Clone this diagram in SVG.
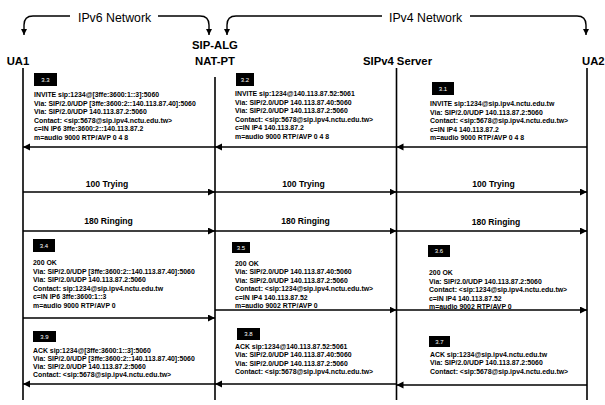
<svg xmlns="http://www.w3.org/2000/svg" width="605" height="405" viewBox="0 0 605 405">
<style>
.bg{fill:#fff}
.life{stroke:#000;stroke-width:1.6;fill:none}
.msg{stroke:#000;stroke-width:1.5;fill:none}
.net{stroke:#000;stroke-width:1.4;fill:none}
.ent{font-family:"Liberation Sans",Arial,sans-serif;font-weight:bold;font-size:11.3px;fill:#000}
.nt{font-family:"Liberation Sans",Arial,sans-serif;font-size:12.3px;fill:#000}
.lbl{font-family:"Liberation Sans",Arial,sans-serif;font-weight:bold;font-size:8.6px;fill:#000;text-anchor:middle}
.body{font-family:"Liberation Sans",Arial,sans-serif;font-weight:bold;font-size:6.9px;fill:#000}
.tag{fill:#000}
.tagt{font-family:"Liberation Sans",Arial,sans-serif;font-size:6px;fill:#fff;text-anchor:middle}
</style>
<defs>
<marker id="ah" markerUnits="userSpaceOnUse" markerWidth="8" markerHeight="8" refX="7" refY="3.5" orient="auto">
<path d="M0,0 L7,3.5 L0,7 z" fill="#000"/>
</marker>
<marker id="ahs" markerUnits="userSpaceOnUse" markerWidth="8" markerHeight="8" refX="6" refY="3" orient="auto">
<path d="M0,0 L6,3 L0,6 z" fill="#000"/>
</marker>
</defs>
<rect class="bg" x="0" y="0" width="605" height="405"/>

<g id="networks">
<path class="net" d="M70,16 H33 Q24,16 24,25 V35" marker-end="url(#ahs)"/>
<text class="nt" x="78" y="22">IPv6 Network</text>
<path class="net" d="M158,16 H200 Q209,16 209,25 V35" marker-end="url(#ahs)"/>
<path class="net" d="M382,16 H236 Q227,16 227,25 V35" marker-end="url(#ahs)"/>
<text class="nt" x="389" y="22">IPv4 Network</text>
<path class="net" d="M470,16 H577 Q586,16 586,25 V35" marker-end="url(#ahs)"/>
</g>

<g id="UA1">
<text class="ent" x="18" y="65" text-anchor="middle">UA1</text>
<line class="life" x1="23" y1="68" x2="23" y2="400"/>
</g>
<g id="NAT-PT">
<text class="ent" x="215" y="49" text-anchor="middle">SIP-ALG</text>
<text class="ent" x="215" y="65" text-anchor="middle">NAT-PT</text>
<line class="life" x1="215" y1="77" x2="215" y2="400"/>
</g>
<g id="SIPv4">
<text class="ent" x="397.5" y="65" text-anchor="middle">SIPv4 Server</text>
<line class="life" x1="396.5" y1="68" x2="396.5" y2="400"/>
</g>
<g id="UA2">
<text class="ent" x="582" y="65">UA2</text>
<line class="life" x1="587" y1="68" x2="587" y2="400"/>
</g>

<g id="connectors">
<line class="msg" x1="215" y1="147" x2="23" y2="147" marker-end="url(#ah)"/>
<line class="msg" x1="396.5" y1="147" x2="215" y2="147" marker-end="url(#ah)"/>
<line class="msg" x1="587" y1="147" x2="396.5" y2="147" marker-end="url(#ah)"/>
<line class="msg" x1="23" y1="192" x2="215" y2="192" marker-end="url(#ah)"/>
<line class="msg" x1="215" y1="192" x2="396.5" y2="192" marker-end="url(#ah)"/>
<line class="msg" x1="396.5" y1="192" x2="587" y2="192" marker-end="url(#ah)"/>
<line class="msg" x1="23" y1="231" x2="215" y2="231" marker-end="url(#ah)"/>
<line class="msg" x1="215" y1="231" x2="396.5" y2="231" marker-end="url(#ah)"/>
<line class="msg" x1="396.5" y1="231" x2="587" y2="231" marker-end="url(#ah)"/>
<line class="msg" x1="23" y1="318" x2="215" y2="318" marker-end="url(#ah)"/>
<line class="msg" x1="215" y1="310" x2="396.5" y2="310" marker-end="url(#ah)"/>
<line class="msg" x1="396.5" y1="310" x2="587" y2="310" marker-end="url(#ah)"/>
<line class="msg" x1="215" y1="384" x2="23" y2="384" marker-end="url(#ah)"/>
<line class="msg" x1="396.5" y1="384" x2="215" y2="384" marker-end="url(#ah)"/>
<line class="msg" x1="587" y1="385" x2="396.5" y2="385" marker-end="url(#ah)"/>
</g>

<g id="trying">
<text class="lbl" x="107" y="187">100 Trying</text>
<text class="lbl" x="303.5" y="187">100 Trying</text>
<text class="lbl" x="493.5" y="186.5">100 Trying</text>
</g>
<g id="ringing">
<text class="lbl" x="108.5" y="224">180 Ringing</text>
<text class="lbl" x="305.5" y="224">180 Ringing</text>
<text class="lbl" x="496" y="225">180 Ringing</text>
</g>

<g id="m3_3">
<rect class="tag" x="34" y="73" width="23" height="13"/>
<text class="tagt" x="45.5" y="81.5">3.3</text>
<text class="body" x="34" y="97">INVITE sip:1234@[3ffe:3600:1::3]:5060</text>
<text class="body" x="34" y="105.5">Via: SIP/2.0/UDP [3ffe:3600:2::140.113.87.40]:5060</text>
<text class="body" x="34" y="114">Via: SIP/2.0/UDP 140.113.87.2:5060</text>
<text class="body" x="34" y="122.5">Contact: &lt;sip:5678@sip.ipv4.nctu.edu.tw&gt;</text>
<text class="body" x="34" y="131">c=IN IP6 3ffe:3600:2::140.113.87.2</text>
<text class="body" x="34" y="139.5">m=audio 9000 RTP/AVP 0 4 8</text>
</g>
<g id="m3_2">
<rect class="tag" x="236" y="73" width="18" height="13"/>
<text class="tagt" x="245" y="81.5">3.2</text>
<text class="body" x="235" y="96">INVITE sip:1234@140.113.87.52:5061</text>
<text class="body" x="235" y="104.5">Via: SIP/2.0/UDP 140.113.87.40:5060</text>
<text class="body" x="235" y="113">Via: SIP/2.0/UDP 140.113.87.2:5060</text>
<text class="body" x="235" y="121.5">Contact: &lt;sip:5678@sip.ipv4.nctu.edu.tw&gt;</text>
<text class="body" x="235" y="130">c=IN IP4 140.113.87.2</text>
<text class="body" x="235" y="138.5">m=audio 9000 RTP/AVP 0 4 8</text>
</g>
<g id="m3_1">
<rect class="tag" x="432" y="82" width="22" height="13"/>
<text class="tagt" x="443" y="90.5">3.1</text>
<text class="body" x="430" y="106">INVITE sip:1234@sip.ipv4.nctu.edu.tw</text>
<text class="body" x="430" y="114.5">Via: SIP/2.0/UDP 140.113.87.2:5060</text>
<text class="body" x="430" y="123">Contact: &lt;sip:5678@sip.ipv4.nctu.edu.tw&gt;</text>
<text class="body" x="430" y="131.5">c=IN IP4 140.113.87.2</text>
<text class="body" x="430" y="140">m=audio 9000 RTP/AVP 0 4 8</text>
</g>

<g id="m3_4">
<rect class="tag" x="33" y="239" width="22" height="13"/>
<text class="tagt" x="44" y="247.5">3.4</text>
<text class="body" x="33" y="265">200 OK</text>
<text class="body" x="33" y="273.5">Via: SIP/2.0/UDP [3ffe:3600:2::140.113.87.40]:5060</text>
<text class="body" x="33" y="282">Via: SIP/2.0/UDP 140.113.87.2:5060</text>
<text class="body" x="33" y="290.5">Contact: sip:1234@sip.ipv4.nctu.edu.tw</text>
<text class="body" x="33" y="299">c=IN IP6 3ffe:3600:1::3</text>
<text class="body" x="33" y="307.5">m=audio 9000 RTP/AVP 0</text>
</g>
<g id="m3_5">
<rect class="tag" x="232" y="242" width="18" height="11"/>
<text class="tagt" x="241" y="249.5">3.5</text>
<text class="body" x="235" y="265.5">200 OK</text>
<text class="body" x="235" y="274">Via: SIP/2.0/UDP 140.113.87.40:5060</text>
<text class="body" x="235" y="282.5">Via: SIP/2.0/UDP 140.113.87.2:5060</text>
<text class="body" x="235" y="291">Contact: &lt;sip:1234@sip.ipv4.nctu.edu.tw&gt;</text>
<text class="body" x="235" y="299.5">c=IN IP4 140.113.87.52</text>
<text class="body" x="235" y="308">m=audio 9002 RTP/AVP 0</text>
</g>
<g id="m3_6">
<rect class="tag" x="428" y="245" width="22" height="12"/>
<text class="tagt" x="439" y="253">3.6</text>
<text class="body" x="429" y="275">200 OK</text>
<text class="body" x="429" y="283.5">Via: SIP/2.0/UDP 140.113.87.2:5060</text>
<text class="body" x="429" y="292">Contact: &lt;sip:1234@sip.ipv4.nctu.edu.tw&gt;</text>
<text class="body" x="429" y="300.5">c=IN IP4 140.113.87.52</text>
<text class="body" x="429" y="308.5">m=audio 9002 RTP/AVP 0</text>
</g>

<g id="m3_9">
<rect class="tag" x="33" y="331" width="23" height="11"/>
<text class="tagt" x="44.5" y="338.5">3.9</text>
<text class="body" x="33" y="352.5">ACK sip:1234@[3ffe:3600:1::3]:5060</text>
<text class="body" x="33" y="360.8">Via: SIP/2.0/UDP [3ffe:3600:2::140.113.87.40]:5060</text>
<text class="body" x="33" y="369.1">Via: SIP/2.0/UDP 140.113.87.2:5060</text>
<text class="body" x="33" y="377.4">Contact: &lt;sip:5678@sip.ipv4.nctu.edu.tw&gt;</text>
</g>
<g id="m3_8">
<rect class="tag" x="237" y="328" width="23" height="12"/>
<text class="tagt" x="248.5" y="336">3.8</text>
<text class="body" x="235" y="349">ACK sip:1234@140.113.87.52:5061</text>
<text class="body" x="235" y="357.3">Via: SIP/2.0/UDP 140.113.87.40:5060</text>
<text class="body" x="235" y="365.6">Via: SIP/2.0/UDP 140.113.87.2:5060</text>
<text class="body" x="235" y="373.9">Contact: &lt;sip:5678@sip.ipv4.nctu.edu.tw&gt;</text>
</g>
<g id="m3_7">
<rect class="tag" x="429" y="336" width="21" height="11"/>
<text class="tagt" x="439.5" y="343.5">3.7</text>
<text class="body" x="430" y="357">ACK sip:1234@sip.ipv4.nctu.edu.tw</text>
<text class="body" x="430" y="365.3">Via: SIP/2.0/UDP 140.113.87.2:5060</text>
<text class="body" x="430" y="373.6">Contact: &lt;sip:5678@sip.ipv4.nctu.edu.tw&gt;</text>
</g>
</svg>
